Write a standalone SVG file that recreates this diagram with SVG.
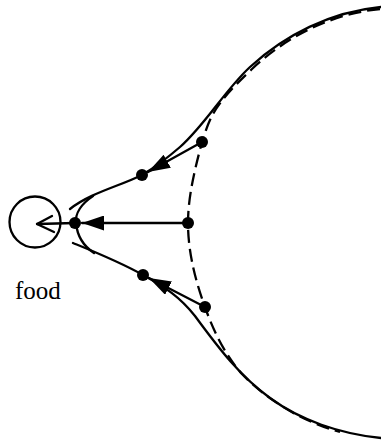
<svg xmlns="http://www.w3.org/2000/svg" width="381" height="444" viewBox="0 0 381 444">
  <style>
    .s { fill: none; stroke: #000; stroke-width: 2.3; stroke-linecap: round; stroke-linejoin: round; }
    .d { fill: none; stroke: #000; stroke-width: 2.3; stroke-dasharray: 13 6; }
    .dot { fill: #000; }
    .lbl { font-family: "Liberation Serif", "Times New Roman", serif; font-size: 25px; fill: #000; }
  </style>
  <defs>
    <marker id="ah" viewBox="0 0 22 15" refX="22" refY="7.5" markerWidth="22" markerHeight="15" markerUnits="userSpaceOnUse" orient="auto">
      <path d="M0,0 L22,7.5 L0,15 z" fill="#000"/>
    </marker>
  </defs>
  <rect width="381" height="444" fill="#fff"/>

  <g id="contours">
    <path class="s" d="M381,7 C 330,12 285,35 250,67 C 225,90 205,125 180,147 C 165,160 152,169 142,175 C 120,186 90,193 70,209"/>
    <path class="s" d="M73,243 C 95,252 120,262 143,275 C 165,287 180,297 195,316 C 220,350 240,376 270,398 C 300,420 340,434 381,438"/>
    <path class="s" d="M93,196 C 81,204 75,214 76,223 C 77,234 82,245 94,253"/>
    <path class="d" d="M380,9 C 330,14 286,37 252,69 C 233,87 221,100 213,114 C 208,123 205,133 202,142 C 196,165 188,195 188,223 C 188,255 197,285 205,307 C 213,330 225,355 242,374 C 265,398 300,421 340,432"/>
  </g>

  <g id="food">
    <circle class="s" cx="35" cy="222" r="25.5"/>
    <path class="s" d="M52,216 L37,224 L54,232"/>
    <text class="lbl" x="15" y="299">food</text>
  </g>

  <g id="connectors">
    <line class="s" x1="37" y1="224" x2="75" y2="223"/>
    <line class="s" x1="202" y1="142" x2="148" y2="172" marker-end="url(#ah)"/>
    <line class="s" x1="188" y1="223" x2="82" y2="223" marker-end="url(#ah)"/>
    <line class="s" x1="205" y1="307" x2="149" y2="278" marker-end="url(#ah)"/>
  </g>

  <g id="n1"><circle class="dot" cx="202" cy="142" r="6"/></g>
  <g id="n2"><circle class="dot" cx="142" cy="175" r="6"/></g>
  <g id="n3"><circle class="dot" cx="188" cy="223" r="6"/></g>
  <g id="n4"><circle class="dot" cx="75" cy="223" r="6"/></g>
  <g id="n5"><circle class="dot" cx="205" cy="307" r="6"/></g>
  <g id="n6"><circle class="dot" cx="143" cy="275" r="6"/></g>
</svg>
